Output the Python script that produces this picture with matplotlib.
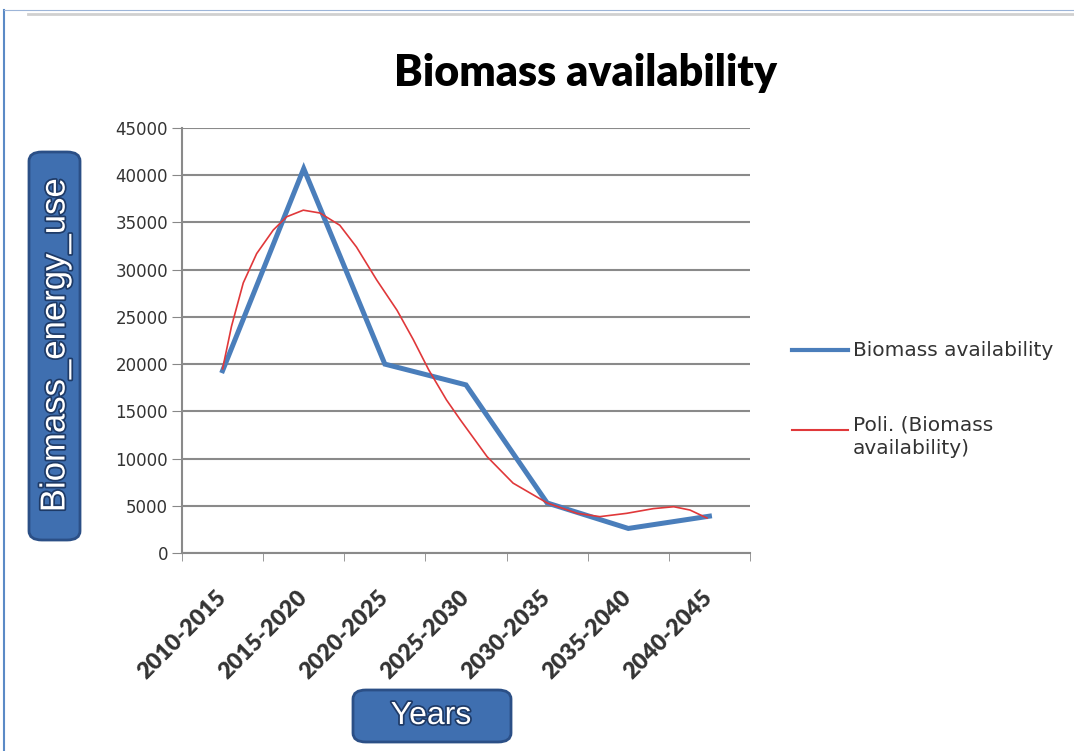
import matplotlib

matplotlib.use("Agg")
import matplotlib.pyplot as plt
from matplotlib.lines import Line2D
from matplotlib.patches import FancyBboxPatch
import matplotlib.patheffects as pe

periods = ["2010-2015", "2015-2020", "2020-2025", "2025-2030",
           "2030-2035", "2035-2040", "2040-2045"]
biomass = [19300, 40700, 20000, 17800, 5300, 2600, 3900]

# polynomial trend line (x in category units)
trend_x = [0.0, 0.11, 0.255, 0.42, 0.625, 0.79, 0.995, 1.2, 1.445, 1.65,
           1.9, 2.15, 2.35, 2.54, 2.76, 2.93, 3.26, 3.58, 4.0, 4.37, 4.65,
           4.98, 5.31, 5.56, 5.76, 5.97]
trend_y = [19500, 24000, 28600, 31700, 34200, 35600, 36300, 36000, 34700,
           32400, 28900, 25700, 22600, 19400, 16200, 14100, 10200, 7400,
           5300, 4200, 3850, 4200, 4700, 4900, 4550, 3700]

yticks = list(range(0, 45001, 5000))

BLUE = "#4a7ebb"
RED = "#e0383a"

W, H = 1074, 751
fig = plt.figure(figsize=(W / 100, H / 100), dpi=100)
ax = fig.add_axes([182 / W, 1 - 553 / H, (750 - 182) / W, (553 - 128) / H])

xs = list(range(len(periods)))
ax.plot(xs, biomass, color=BLUE, lw=3.6, solid_joinstyle="miter", zorder=3)
ax.plot(trend_x, trend_y, color=RED, lw=1.2, zorder=4)

ax.set_xlim(-0.5, len(periods) - 0.5)
ax.set_ylim(0, 45000)
ax.set_yticks(yticks)
ax.set_yticklabels([str(v) for v in yticks], fontsize=12,
                   family="DejaVu Sans", color="#333333")
ax.set_xticks(xs)
ax.set_xticklabels(periods, rotation=45, ha="right", va="center",
                   rotation_mode="anchor", fontsize=16.5, family="Lato",
                   fontweight="heavy", color="#333333")
ax.set_xticks([x - 0.5 for x in range(len(periods) + 1)], minor=True)
ax.tick_params(axis="x", which="major", length=0, pad=30)
ax.tick_params(axis="x", which="minor", length=6, color="#888888",
               direction="out")
ax.tick_params(axis="y", length=7, color="#888888", pad=3)

ax.grid(axis="y", color="#8a8a8a", lw=1.5)
ax.set_axisbelow(True)
for s in ("top", "right"):
    ax.spines[s].set_visible(False)
for s in ("left", "bottom"):
    ax.spines[s].set_color("#8a8a8a")
    ax.spines[s].set_linewidth(1.5)

# legend laid out like the Excel one (handle next to the first text line)
tf = fig.transFigure
fig.add_artist(Line2D([792 / W, 848 / W], [1 - 350 / H, 1 - 350 / H],
                      color=BLUE, lw=3, transform=tf))
fig.text(853 / W, 1 - 351 / H, "Biomass availability", ha="left",
         va="center", fontsize=14.5, family="DejaVu Sans", color="#333333")
fig.add_artist(Line2D([792 / W, 848 / W], [1 - 430 / H, 1 - 430 / H],
                      color=RED, lw=1.5, transform=tf))
fig.text(853 / W, 1 - 416 / H, "Poli. (Biomass\navailability)", ha="left",
         va="top", fontsize=14.5, family="DejaVu Sans", color="#333333",
         linespacing=1.3)

fig.text(585 / W, 1 - 86 / H, "Biomass availability", ha="center",
         va="baseline", fontsize=31, fontweight="heavy", family="Lato")

# blue rounded label boxes
box_kw = dict(boxstyle="round,pad=0,rounding_size=0.012",
              facecolor="#3f6fb0", edgecolor="#2b4f86", lw=2, transform=tf)
stroke = [pe.withStroke(linewidth=2.5, foreground="#1e3a66")]
fig.add_artist(FancyBboxPatch((29 / W, 1 - 540 / H), 51 / W, 388 / H,
                              **box_kw))
fig.text(55 / W, 1 - 345 / H, "Biomass_energy_use", rotation=90,
         ha="center", va="center", color="white", fontsize=25,
         family="Liberation Sans", path_effects=stroke)
fig.add_artist(FancyBboxPatch((353 / W, 1 - 742 / H), 158 / W, 52 / H,
                              **box_kw))
fig.text(431 / W, 1 - 716 / H, "Years", ha="center", va="center",
         color="white", fontsize=23, family="Liberation Sans",
         path_effects=stroke)

# page frame lines
fig.add_artist(Line2D([4 / W, 4 / W], [0, 1 - 10 / H], color="#5b8ac6",
                      lw=1.5, transform=tf))
fig.add_artist(Line2D([4 / W, 1], [1 - 10 / H, 1 - 10 / H], color="#9db5d8",
                      lw=0.8, transform=tf))
fig.add_artist(Line2D([28 / W, 1], [1 - 14 / H, 1 - 14 / H], color="#d0d0d0",
                      lw=2, transform=tf))

fig.savefig("out.png", dpi=100)
